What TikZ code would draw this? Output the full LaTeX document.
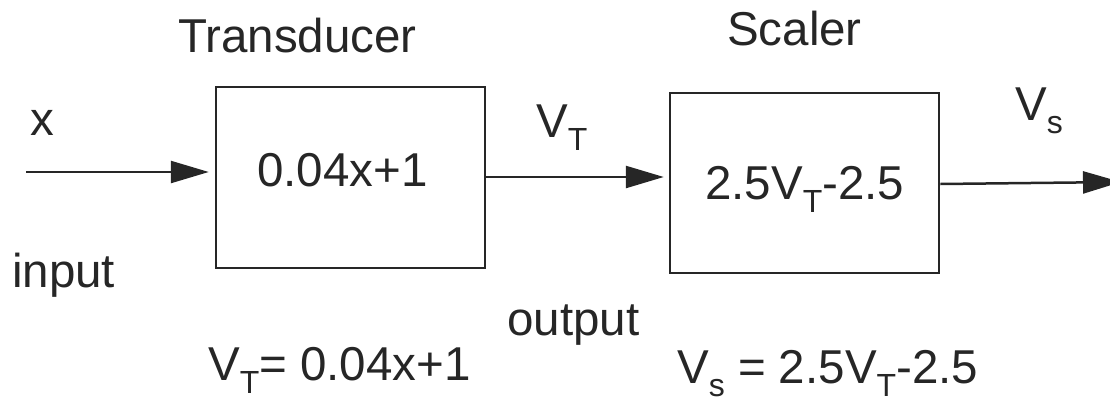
\documentclass[tikz,border=0pt]{standalone}
\usepackage{fontspec}
\setmainfont{Liberation Sans}
\usetikzlibrary{arrows.meta}
\newcommand{\sbs}[1]{\raisebox{-13pt}[0pt][0pt]{\fontsize{32}{32}\selectfont #1}}
\tikzset{
  lbl/.style={anchor=base west, inner sep=0pt, font=\fontsize{47.5}{50}\selectfont, text=black!85},
  blk/.style={draw=black!85, line width=2.5pt, inner sep=0pt, rectangle},
  arr/.style={draw=black!85, line width=2.5pt, -{Triangle[length=38pt, width=22pt]}},
}
\begin{document}
\begin{tikzpicture}[x=1pt, y=-1pt]
\useasboundingbox (0,0) rectangle (1110,399);
\clip (0,0) rectangle (1110,399);
% boxes
\node[blk, minimum width=269pt, minimum height=181pt] (b1) at (350.5,177.5) {};
\node[blk, minimum width=269pt, minimum height=180pt] (b2) at (804.5,183) {};
% texts inside boxes
\node[lbl] (t1) at (257,186) {0.04x+1};
\node[lbl] (t2) at (705,199) {2.5V\sbs{T}-2.5};
% titles
\node[lbl, anchor=base] (tr) at (297.5,52) {Transducer};
\node[lbl, anchor=base] (sc) at (794.5,45) {Scaler};
% labels
\node[lbl] (lx) at (30,135) {x};
\node[lbl] (lin) at (12,287) {input};
\node[lbl] (lvt) at (536,137) {V\sbs{T}};
\node[lbl] (lvs) at (1015,120) {V\sbs{s}};
\node[lbl] (lout) at (507,335) {output};
\node[lbl] (e1) at (208,380) {V\sbs{T}= 0.04x+1};
\node[lbl] (e2) at (677,383) {V\sbs{s} = 2.5V\sbs{T}-2.5};
% connectors
\coordinate (in) at (26,172);
\coordinate (out) at (1121,182);
\draw[arr, shorten >=6pt] (in) -- (in -| b1.west);
\draw[arr, shorten >=5pt] ([yshift=0.5pt]b1.east) -- ([yshift=0.5pt]b1.east -| b2.west);
\draw[arr] ([yshift=-1pt]b2.east) -- (out);
\end{tikzpicture}
\end{document}
